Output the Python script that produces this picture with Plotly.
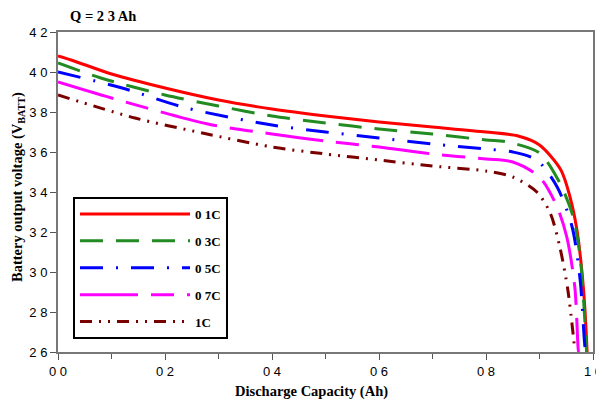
import plotly.graph_objects as go

# ---- data ----
x_01 = [0, 0.03, 0.1, 0.2, 0.3, 0.4, 0.5, 0.6, 0.7, 0.8, 0.86, 0.9, 0.94, 0.957, 0.97, 0.979, 0.985, 0.989]
v_01 = [4.08, 4.055, 3.99, 3.92, 3.86, 3.815, 3.78, 3.75, 3.725, 3.70, 3.68, 3.635, 3.51, 3.375, 3.21, 3.01, 2.81, 2.6]

x_03 = [0, 0.08, 0.2, 0.3, 0.4, 0.5, 0.6, 0.7, 0.8, 0.84, 0.9, 0.938, 0.963, 0.976, 0.985, 0.988]
v_03 = [4.045, 3.97, 3.885, 3.83, 3.78, 3.745, 3.715, 3.69, 3.66, 3.65, 3.595, 3.445, 3.275, 3.075, 2.745, 2.6]

x_05 = [0, 0.12, 0.24, 0.4, 0.5, 0.6, 0.7, 0.8, 0.85, 0.895, 0.933, 0.961, 0.976, 0.985, 0.987]
v_05 = [4.00, 3.92, 3.82, 3.735, 3.70, 3.67, 3.64, 3.615, 3.60, 3.56, 3.425, 3.225, 2.96, 2.625, 2.6]

x_07 = [0, 0.1, 0.28, 0.4, 0.5, 0.6, 0.7, 0.8, 0.85, 0.9, 0.933, 0.951, 0.966, 0.972, 0.973]
v_07 = [3.95, 3.87, 3.74, 3.69, 3.655, 3.625, 3.59, 3.565, 3.55, 3.475, 3.325, 3.175, 2.925, 2.625, 2.6]

x_10 = [0, 0.144, 0.27, 0.4, 0.5, 0.6, 0.7, 0.8, 0.85, 0.895, 0.92, 0.938, 0.953, 0.966]
v_10 = [3.885, 3.77, 3.695, 3.625, 3.59, 3.56, 3.53, 3.505, 3.475, 3.40, 3.295, 3.125, 2.91, 2.61]

series_names = ["0 1C", "0 3C", "0 5C", "0 7C", "1C"]
x_ticks = [0, 0.2, 0.4, 0.6, 0.8, 1.0]
x_tick_labels = ["0 0", "0 2", "0 4", "0 6", "0 8", "1 0"]
y_ticks = [2.6, 2.8, 3.0, 3.2, 3.4, 3.6, 3.8, 4.0, 4.2]
y_tick_labels = ["2 6", "2 8", "3 0", "3 2", "3 4", "3 6", "3 8", "4 0", "4 2"]

styles = [
    dict(color="#ff0000", dash="solid"),
    dict(color="#228b22", dash="23px,13px"),
    dict(color="#0000ff", dash="23px,13px,2px,13px"),
    dict(color="#ff00ff", dash="58px,13px,23px,13px"),
    dict(color="#7a0000", dash="12px,7px,2px,7px,2px,7px"),
]

xs = [x_01, x_03, x_05, x_07, x_10]
vs = [v_01, v_03, v_05, v_07, v_10]

fig = go.Figure()
for i, (name, xx, vv, st) in enumerate(zip(series_names, xs, vs, styles)):
    fig.add_trace(go.Scatter(
        x=xx, y=vv, mode="lines", name="<b>" + name + "</b>", legendgroup=str(i),
        line=dict(color=st["color"], dash=st["dash"], width=3, shape="spline", smoothing=0.8),
    ))

serif = "Liberation Serif, Times New Roman, serif"
sans = "Liberation Sans, Arial, sans-serif"

def px_x(p):  # page pixel -> paper x
    return (p - 58) / 535

def px_y(p):  # page pixel -> paper y
    return (352 - p) / 320

# page has an 8px body margin: figure is 596x395 so it fits the 604x403 window
fig.update_layout(
    width=596, height=395,
    margin=dict(l=50, r=11, t=24, b=51),
    paper_bgcolor="white", plot_bgcolor="white",
    showlegend=True,
    legend=dict(
        x=px_x(73), y=px_y(197), xanchor="left", yanchor="top",
        bordercolor="black", borderwidth=2, bgcolor="white",
        font=dict(family=serif, size=13, color="black"),
        tracegroupgap=7, itemwidth=110,
    ),
    annotations=[
        dict(text="<b>Q = 2 3 Ah</b>", x=px_x(68), y=px_y(16),
             xref="paper", yref="paper",
             showarrow=False, font=dict(family=serif, size=14.5, color="black"),
             xanchor="left", yanchor="middle"),
        dict(text="<b>Discharge Capacity (Ah)</b>", x=px_x(311), y=px_y(391),
             xref="paper", yref="paper",
             showarrow=False, font=dict(family=serif, size=14.5, color="black"),
             xanchor="center", yanchor="middle"),
        dict(text="<b>Battery output voltage (V<sub>BATT</sub>)</b>", x=px_x(18), y=px_y(187),
             xref="paper", yref="paper", textangle=-90,
             showarrow=False, font=dict(family=serif, size=14.5, color="black"),
             xanchor="center", yanchor="middle"),
    ],
)

fig.update_xaxes(
    range=[0, 1.0], tickmode="array", tickvals=x_ticks, ticktext=x_tick_labels,
    minor=dict(tickmode="linear", dtick=0.1, ticks="outside", ticklen=5, tickcolor="#555"),
    ticks="outside", ticklen=6, tickcolor="#555", tickwidth=1,
    showline=True, linecolor="#777", linewidth=2, mirror=True, showgrid=False, zeroline=False,
    tickfont=dict(family=sans, size=13, color="black"), automargin=False,
)
fig.update_yaxes(
    range=[2.6, 4.2], tickmode="array", tickvals=y_ticks, ticktext=y_tick_labels,
    ticks="outside", ticklen=6, tickcolor="#555", tickwidth=1,
    showline=True, linecolor="#777", linewidth=2, mirror=True, showgrid=False, zeroline=False,
    tickfont=dict(family=sans, size=13, color="black"), automargin=False,
)

fig.write_html("out.html")
